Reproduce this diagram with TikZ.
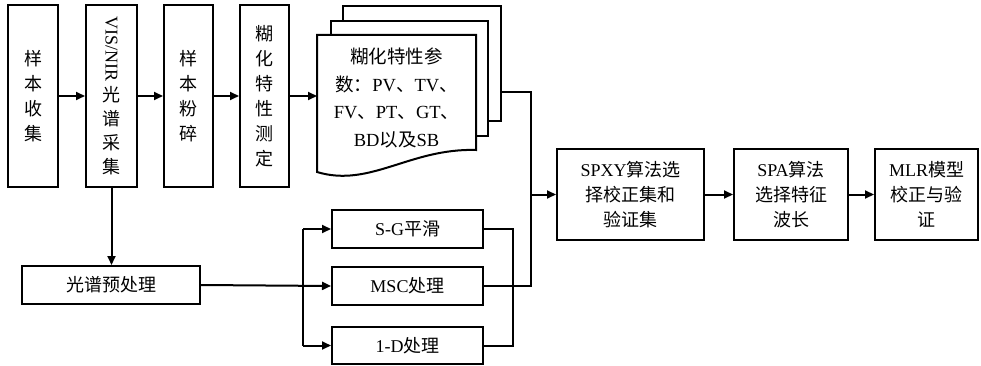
\documentclass[tikz,border=0pt]{standalone}
\usepackage{fontspec}
\setmainfont{Noto Sans CJK SC}
\newfontfamily\latinfont{Liberation Serif}
\newcommand{\tm}[1]{{\latinfont #1}}
\usetikzlibrary{arrows.meta}

\begin{document}
\begin{tikzpicture}[
    x=1pt, y=-1pt,
    box/.style={
        rectangle, draw, line width=2pt,
        inner sep=0pt, align=center,
        font=\fontsize{18}{25}\selectfont
    },
    tallbox/.style={box, minimum height=182pt},
    flatbox/.style={box, minimum width=151pt, minimum height=38pt},
    rightbox/.style={box, minimum height=91pt},
    page/.style={line width=2pt, fill=white},
    line/.style={line width=2pt},
    arrow/.style={line, -{Triangle[length=9pt,width=8pt]}}
]
  \useasboundingbox (0,0) rectangle (981,366);

  % Top row
  \node[tallbox, minimum width=50pt] (collect) at (33,96) {样\\本\\收\\集};
  \node[tallbox, minimum width=51pt, font=\fontsize{18}{24}\selectfont] (visnir) at (111.5,96)
      {\rotatebox{-90}{\tm{VIS/NIR}}\\[4pt]光\\谱\\采\\集};
  \node[tallbox, minimum width=49pt] (grind) at (188.5,96) {样\\本\\粉\\碎};
  \node[tallbox, minimum width=49pt] (paste) at (264.5,96) {糊\\化\\特\\性\\测\\定};

  % Stack of pages
  \draw[page] (343,21) -- (343,6) -- (501,6) -- (501,121) -- (488,121);
  \draw[page] (331,35) -- (331,21) -- (488,21) -- (488,136) -- (476,136);
  \draw[page] (317,35) -- (476,35) -- (476,150)
      .. controls (410,148) and (370,188) .. (317,172) -- cycle;
  \node[font=\fontsize{18.5}{27.5}\selectfont, align=center, inner sep=0pt] (params) at (396.5,98)
      {糊化特性参\\数：\tm{PV}、\tm{TV}、\\\tm{FV}、\tm{PT}、\tm{GT}、\\\tm{BD}以及\tm{SB}};
  \coordinate (docin) at (317,96);
  \coordinate (docout) at (501,92);

  % Right row
  \node[rightbox, minimum width=147pt] (spxy) at (630.5,194.5) {\tm{SPXY}算法选\\择校正集和\\验证集};
  \node[rightbox, minimum width=114pt] (spa) at (791,194.5) {\tm{SPA}算法\\选择特征\\波长};
  \node[rightbox, minimum width=103pt] (mlr) at (926.5,194.5) {\tm{MLR}模型\\校正与验\\证};

  % Bottom row
  \node[box, minimum width=178pt, minimum height=38pt] (prep) at (111,285) {光谱预处理};
  \node[flatbox] (sg) at (407.5,229) {\tm{S-G}平滑};
  \node[flatbox] (msc) at (407.5,286) {\tm{MSC}处理};
  \node[flatbox, minimum height=37pt] (oned) at (407.5,345.5) {\tm{1-D}处理};
  \coordinate (split) at (303,286);
  \coordinate (join) at (513,286);
  \coordinate (merge) at (531,194.5);

  % Top arrows
  \draw[arrow] (collect) -- (visnir);
  \draw[arrow] (visnir) -- (grind);
  \draw[arrow] (grind) -- (paste);
  \draw[arrow] (paste.east) -- (docin);
  \draw[arrow] (visnir.south) -- (visnir.south |- prep.north);

  % Pretreatment branches
  \draw[arrow] (prep.east) -- (msc.west);
  \draw[line] (split |- sg) -- (split |- oned);
  \draw[arrow] (split |- sg) -- (sg.west);
  \draw[arrow] (split |- oned) -- (oned.west);
  \draw[line] (sg.east) -| (join) |- (oned.east);

  % Into the models
  \draw[line] (docout) -| (merge);
  \draw[line] (msc.east) -| (merge);
  \draw[arrow] (merge) -- (spxy.west);
  \draw[arrow] (spxy) -- (spa);
  \draw[arrow] (spa) -- (mlr);
\end{tikzpicture}
\end{document}
